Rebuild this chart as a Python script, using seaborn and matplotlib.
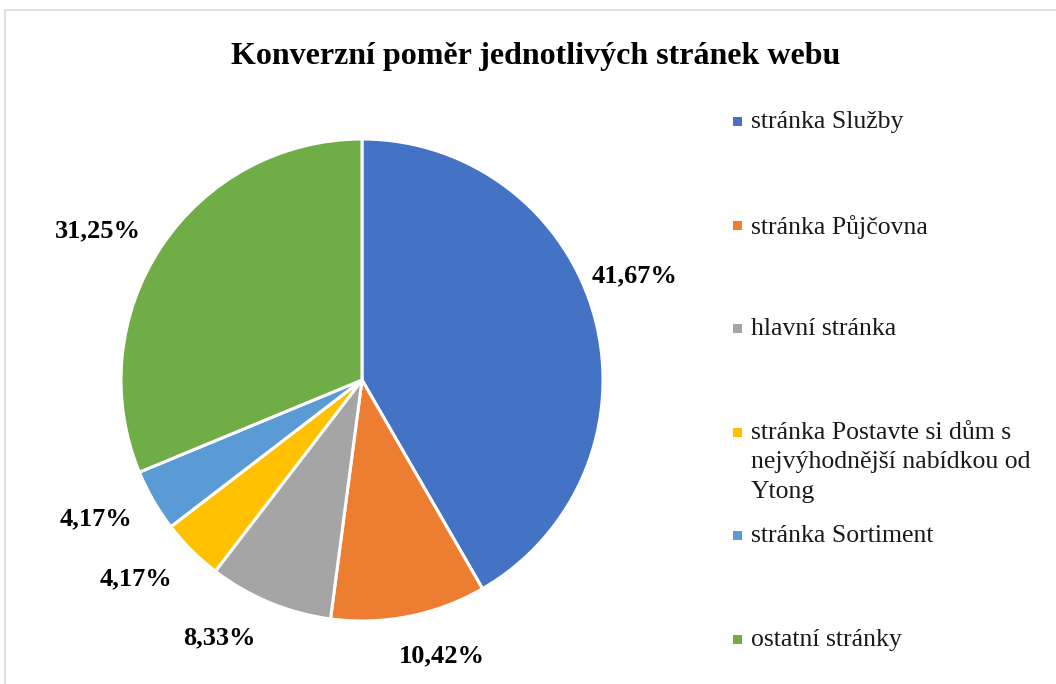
import numpy as np
import matplotlib
matplotlib.use("Agg")
import matplotlib.pyplot as plt
from matplotlib.patches import Rectangle
import seaborn as sns

# Conversion ratio per page (percent)
pages = [
    "stránka Služby",
    "stránka Půjčovna",
    "hlavní stránka",
    "stránka Postavte si dům s\nnejvýhodnější nabídkou od\nYtong",
    "stránka Sortiment",
    "ostatní stránky",
]
values = [41.67, 10.42, 8.33, 4.17, 4.17, 31.25]
labels = ["41,67%", "10,42%", "8,33%", "4,17%", "4,17%", "31,25%"]
colors = ["#4472C4", "#ED7D31", "#A5A5A5", "#FFC000", "#5B9BD5", "#70AD47"]

# label placement (distance from centre in radii, angular nudge in degrees)
label_dist = [1.21, 1.19, 1.225, 1.25, 1.245, 1.26]
label_shift = [6, 5, -6.5, -3.6, -2.4, 4.3]

sns.set_theme(style="white")
plt.rcParams['font.family'] = ['Liberation Serif', 'DejaVu Serif']

W, H = 1056, 684
fig = plt.figure(figsize=(W / 100, H / 100), dpi=100)

# pie centre and radius in pixels
cx, cy, r = 362, 380, 241
lim = 1.4
ax = fig.add_axes([(cx - r * lim) / W, (H - cy - r * lim) / H,
                   2 * r * lim / W, 2 * r * lim / H])
wedges, _ = ax.pie(values, colors=colors, startangle=90, counterclock=False,
                   radius=1.0, wedgeprops=dict(edgecolor="white", linewidth=2.2))
ax.set_xlim(-lim, lim)
ax.set_ylim(-lim, lim)
ax.set_aspect("equal")
ax.axis("off")

for w, lab, d, s in zip(wedges, labels, label_dist, label_shift):
    ang = np.deg2rad((w.theta1 + w.theta2) / 2 + s)
    ax.text(d * np.cos(ang), d * np.sin(ang), lab, ha="center", va="center",
            fontsize=19, fontweight="bold", color="black")

# title
fig.text(536 / W, 1 - 64 / H, "Konverzní poměr jednotlivých stránek webu",
         ha="center", va="baseline", fontsize=23, fontweight="bold", color="black")

# legend drawn as in the spreadsheet: evenly spaced entries
for i, (name, col) in enumerate(zip(pages, colors)):
    y = 122 + i * 103.6
    fig.add_artist(Rectangle((733 / W, 1 - (y + 4) / H), 9 / W, 9 / H,
                             transform=fig.transFigure, facecolor=col, edgecolor="none"))
    fig.text(751 / W, 1 - (y - 11) / H, name, ha="left", va="top",
             fontsize=18.5, color="#1a1a1a", linespacing=1.45)

# chart border
fig.add_artist(Rectangle((5 / W, -0.05), 1.1, 1 - 10 / H + 0.05, transform=fig.transFigure,
                         facecolor="none", edgecolor="#d9d9d9", linewidth=1.2))

fig.savefig("out.png", dpi=100)
